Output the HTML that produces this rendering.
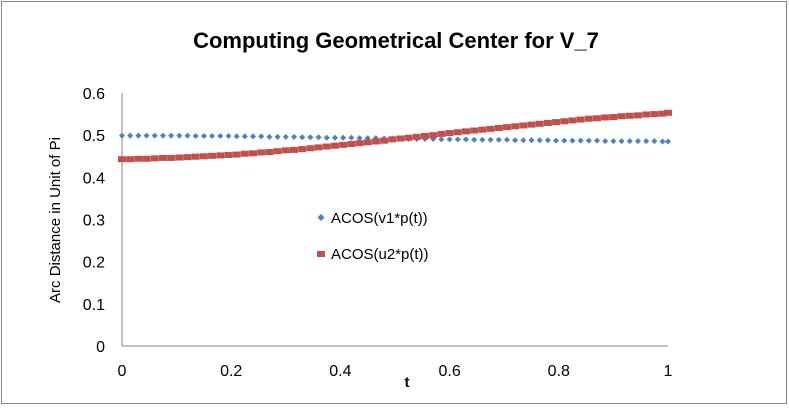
<!DOCTYPE html>
<html><head><meta charset="utf-8"><style>
body{margin:0;background:#fff;}
svg{display:block;font-family:"Liberation Sans",sans-serif;}
</style></head><body>
<svg id="c" width="789" height="409">
<rect x="1.5" y="1.5" width="785" height="402" fill="#fff" stroke="#888"/>
<text x="396" y="48" text-anchor="middle" font-size="22" font-weight="bold">Computing Geometrical Center for V_7</text>
<text transform="translate(60,220) rotate(-90)" text-anchor="middle" font-size="15">Arc Distance in Unit of Pi</text>
<text x="407" y="387" text-anchor="middle" font-size="15" font-weight="bold">t</text>
<g id="axes"></g>
<g id="marks"></g>
<g>
<path d="M321 214 l3.5 3.5 l-3.5 3.5 l-3.5 -3.5z" fill="#4F81BD"/>
<text x="331" y="223" font-size="15">ACOS(v1*p(t))</text>
<rect x="317" y="251" width="8" height="6" fill="#C0504D"/>
<text x="331" y="259" font-size="15">ACOS(u2*p(t))</text>
</g>
</svg>
<script>
const xTicks=[0,0.2,0.4,0.6,0.8,1];
const xTickLabels=["0","0.2","0.4","0.6","0.8","1"];
const yTicks=[0,0.1,0.2,0.3,0.4,0.5,0.6];
const yTickLabels=["0","0.1","0.2","0.3","0.4","0.5","0.6"];
const tValues=[0,0.015,0.03,0.045,0.06,0.075,0.09,0.105,0.12,0.135,0.15,0.165,0.18,0.195,0.21,0.225,0.24,0.255,0.27,0.285,0.3,0.315,0.33,0.345,0.36,0.375,0.39,0.405,0.42,0.435,0.45,0.465,0.48,0.495,0.51,0.525,0.54,0.555,0.57,0.585,0.6,0.615,0.63,0.645,0.66,0.675,0.69,0.705,0.72,0.735,0.75,0.765,0.78,0.795,0.81,0.825,0.84,0.855,0.87,0.885,0.9,0.915,0.93,0.945,0.96,0.975,0.99,1.0];
const v1Values=[0.499,0.499,0.499,0.499,0.499,0.499,0.499,0.499,0.499,0.498,0.498,0.498,0.498,0.498,0.497,0.497,0.497,0.497,0.496,0.496,0.496,0.496,0.495,0.495,0.495,0.494,0.494,0.494,0.494,0.493,0.493,0.493,0.492,0.492,0.492,0.491,0.491,0.491,0.491,0.490,0.490,0.490,0.490,0.489,0.489,0.489,0.489,0.489,0.488,0.488,0.488,0.488,0.488,0.487,0.487,0.487,0.487,0.487,0.487,0.486,0.486,0.486,0.486,0.486,0.486,0.486,0.485,0.485];
const u2Values=[0.443,0.443,0.444,0.444,0.445,0.446,0.446,0.447,0.448,0.449,0.450,0.451,0.452,0.453,0.454,0.456,0.457,0.459,0.460,0.462,0.464,0.465,0.467,0.469,0.471,0.473,0.475,0.477,0.479,0.481,0.483,0.485,0.487,0.490,0.492,0.494,0.496,0.498,0.500,0.503,0.505,0.507,0.509,0.511,0.513,0.515,0.517,0.519,0.521,0.523,0.525,0.527,0.529,0.531,0.533,0.535,0.537,0.539,0.540,0.542,0.543,0.545,0.546,0.547,0.549,0.550,0.551,0.553];
const X0=122,X1=668,Y0=346,Y1=93;
function xs(v){return X0+(X1-X0)*v;}
function ys(v){return Y0-(Y0-Y1)*v/0.6;}
const NS="http://www.w3.org/2000/svg";
const axes=document.getElementById('axes'),marks=document.getElementById('marks');
function mk(tag,attrs,parent){const e=document.createElementNS(NS,tag);for(const k in attrs)e.setAttribute(k,attrs[k]);parent.appendChild(e);return e;}
let yl=mk('line',{x1:X0,y1:Y1,x2:X0,y2:Y0,stroke:'#868686'},axes);


let xl=mk('line',{x1:X0,y1:Y0,x2:X1,y2:Y0,stroke:'#868686'},axes);


yTicks.forEach((v,i)=>{const t=mk('text',{x:105,y:ys(v)+6,'text-anchor':'end','font-size':'16'},axes);t.textContent=yTickLabels[i];

});
xTicks.forEach((v,i)=>{const t=mk('text',{x:xs(v),y:376,'text-anchor':'middle','font-size':'16'},axes);t.textContent=xTickLabels[i];

});
tValues.forEach((t,i)=>{
 const x=xs(t),y=ys(v1Values[i]);
 const p=mk('path',{d:`M${x} ${y-3} l3 3 l-3 3 l-3 -3z`,fill:'#4F81BD'},marks);
 
 
 const ry=ys(u2Values[i]);
 const r=mk('rect',{x:x-4,y:ry-3,width:8,height:6,fill:'#C0504D'},marks);
 
 
});
</script>
</body></html>
